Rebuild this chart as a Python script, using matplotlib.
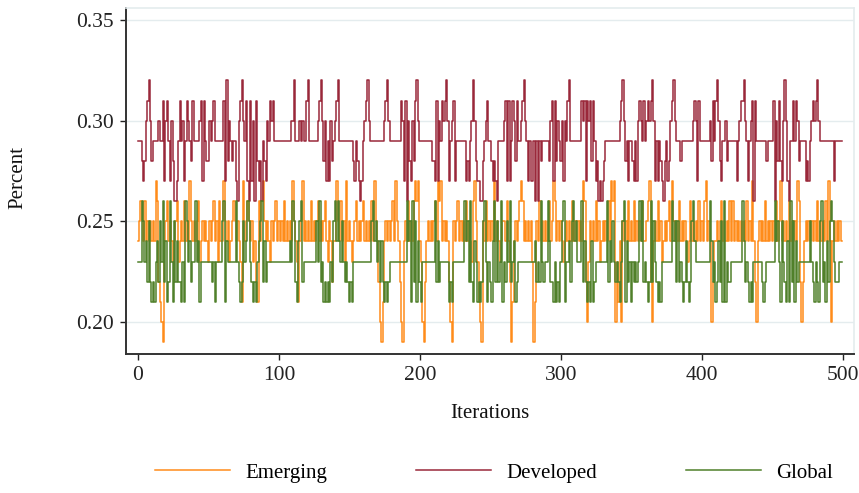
import numpy as np
import matplotlib
matplotlib.use("Agg")
import matplotlib.pyplot as plt

# Values, one digit per iteration, in hundredths above a base.
# Emerging: base 0.18, Developed: base 0.25, Global: base 0.20
emerging_digits = [
    "6787686767 6769843216 7867656785 6768676976 7678567676",
    "5767867586 6976756787 6765396787 6756438689 7676576786",
    "7676867676 9765367967 6768676786 7678657646 6976867596",
    "7656786767 8676768697 6421367676 7869764216 7686768989",
    "6521467676 7869896767 6421767867 6768676589 7532176867",
    "6769676567 7686413676 7898676767 5137686767 6786798676",
    "7656767686 7676769842 5767686756 7676869892 5362767686",
    "7686767686 6789426768 6756767869 7676867676 5686767686",
    "7689676246 6767867676 8686767676 7686769642 6767686767",
    "6768679676 7686767698 4246767676 7686767686 9626767676",
]
developed_digits = [
    "4443235675 3444454462 5642531124 6452465436 4444562643",
    "3545644444 4627354344 2156754621 6251632314 3254656444",
    "4444444445 5744454544 6744444456 7535242534 5674444444",
    "4443243212 4567544444 4444456754 4444444652 6153253675",
    "4444444443 3262546567 5245624444 4442324575 3221134564",
    "4323214444 5626246536 4456754242 2414143444 4435626354",
    "3525467444 4444465626 5636423121 2344444444 4456753424",
    "4324256546 4565675242 4321342356 7544434444 4444565264",
    "4444445364 6753244534 4444424566 7542456164 4444443444",
    "4615363257 5214464653 4444232456 5675444444 4444244444",
]
global_digits = [
    "3336534252 1213425362 4126315242 2131653423 3634133333",
    "3332313333 5614333333 6321253465 3212134562 4233333333",
    "3333333343 6521456233 3333333536 2312121325 6464353232",
    "1213333333 3333335645 3424212123 3333333333 3645162514",
    "2133333333 3624233333 3121333333 3364526214 3121256313",
    "2146252361 3253623412 3333333333 3342326323 3642213121",
    "3561334256 4533362421 2141233333 3336243532 3213561423",
    "1323236462 3212625321 2133333336 4525232124 2125643333",
    "3333336423 1242516132 2333333336 4232121333 3332123333",
    "3364531532 1416251423 3333333532 1321562314 2565322233",
]

series_names = ["Emerging", "Developed", "Global"]
series_colors = ["#ff8c1a", "#9a283a", "#50802a"]


def decode(rows, base):
    s = "".join(rows).replace(" ", "")
    return base + np.array([int(c) for c in s]) / 100.0


emerging = decode(emerging_digits, 0.18)
developed = decode(developed_digits, 0.25)
global_ = decode(global_digits, 0.20)

plt.rcParams["font.family"] = ["Liberation Serif", "DejaVu Serif"]

W, H, dpi = 859, 493, 100
fig = plt.figure(figsize=(W / dpi, H / dpi), dpi=dpi)
ax = fig.add_axes([126 / W, 1 - 354 / H, (854 - 126) / W, (354 - 8) / H])

for data, name, col in zip([emerging, developed, global_], series_names, series_colors):
    ax.plot(np.arange(len(data)), data, color=col, lw=1.1, label=name,
            drawstyle="steps-mid")

ax.set_xlim(-8.5, 507.8)
ax.set_ylim(0.1841, 0.356)
ax.set_xticks([0, 100, 200, 300, 400, 500])
ax.set_yticks([0.20, 0.25, 0.30, 0.35])
ax.set_yticklabels(["0.20", "0.25", "0.30", "0.35"])
ax.tick_params(axis="both", labelsize=15.5, colors="#222222", length=4, width=1)
ax.tick_params(axis="x", pad=5)
ax.tick_params(axis="y", pad=5)
ax.yaxis.grid(True, color="#e4ecee", lw=1)
ax.set_axisbelow(True)

for side in ["left", "bottom"]:
    ax.spines[side].set_color("#333333")
    ax.spines[side].set_linewidth(1.4)
for side in ["top", "right"]:
    ax.spines[side].set_color("#e4ecee")
    ax.spines[side].set_linewidth(1.2)

fig.text(18 / W, 1 - 177 / H, "Percent", rotation=90, ha="center", va="center",
         fontsize=15, color="#111111")
fig.text(490 / W, 1 - 413 / H, "Iterations", ha="center", va="center",
         fontsize=15, color="#111111")

handles, labels = ax.get_legend_handles_labels()
fig.legend(handles, labels, loc="center", bbox_to_anchor=(494 / W, 1 - 473 / H),
           ncol=3, frameon=False, fontsize=15, handlelength=3.6,
           handletextpad=0.7, columnspacing=4.3)

fig.savefig("out.png", dpi=dpi)
